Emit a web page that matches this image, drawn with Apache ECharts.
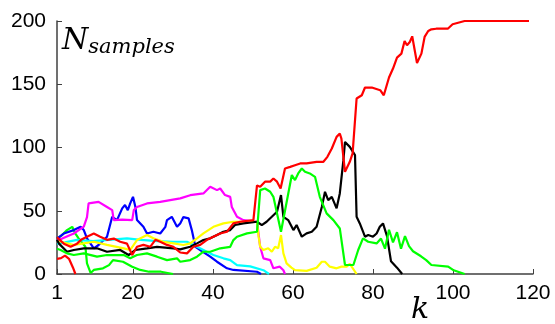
<!DOCTYPE html>
<html>
<head>
<meta charset="utf-8">
<script src="https://cdn.jsdelivr.net/npm/echarts@6/dist/echarts.min.js"></script>
<style>
  html, body { margin: 0; padding: 0; background: #fff; }
  #chart { width: 555px; height: 324px; }
</style>
</head>
<body>
<div id="chart"></div>
<script>
// Tick positions along each axis
const xTicks = [1, 20, 40, 60, 80, 100, 120];
const yTicks = [0, 50, 100, 150, 200];

// Sample counts per step k, one [k, N] list per track
const redShort = [[1,12],[2,12.5],[3,14.5],[4,12],[5,5],[5.6,0]];
const greenShort = [[1,28],[2,30],[3.5,34.7],[4.8,37.3],[5.6,32],[6.4,28.2],[8.1,21.5],[8.5,8.4],[9.4,0.8],[10.2,3.2],[12.5,4.5],[14,7],[15,11],[17.5,9.7],[19.8,5.8],[21.8,3.2],[24,1.8],[27,1.8],[30,0]];
const blueTrack = [[1,28],[2.7,32],[5.2,34.7],[6.9,37.3],[7.7,34.7],[8.5,28.2],[10.2,20.3],[11.4,22.9],[13.5,29.5],[14.8,45.2],[16,42.6],[17.3,51.9],[18,54.5],[18.7,50.5],[19.3,55.8],[20,61],[20.6,53],[21,42.6],[22.6,37.3],[23.5,32],[25.1,33.4],[26.8,32],[28.1,37.3],[28.5,42.6],[29.7,45.2],[31,37.3],[31.8,40],[32.6,45],[33.9,44],[34.7,34.7],[35.6,21.5],[36.8,19],[39.3,13.7],[41,9.7],[43.5,4.5],[45.1,3.2],[51,1.8],[52,0]];
const cyanTrack = [[1,24],[3,25],[6,27],[10,26],[14,27],[18.5,28.2],[22,27],[26,26],[30,25.5],[33.5,25.5],[36,21.5],[37.6,19],[40.1,15],[42.6,12.4],[44.3,11],[46,7],[49.3,6],[52.6,3],[54,0]];
const magentaTrack = [[1,27],[2.3,28],[5.2,32],[7.7,37.4],[8.5,45],[8.9,55.8],[11.4,57],[13.5,53],[14.8,50.5],[15.2,42.6],[17.3,43],[19.8,42.6],[20.2,50.5],[21,53],[23.5,55.8],[26.8,57],[29.3,58.4],[31.8,59.8],[34.3,62.3],[37.6,63.7],[39.3,69],[41,66.3],[41.8,67.6],[43,62.4],[44.3,61],[44.7,53],[46,45.2],[47.6,42.6],[51,41.3],[51.8,21.5],[52.6,12.4],[54.3,11],[55.1,4.5],[56.7,5.8],[57.6,3],[58,0]];
const yellowTrack = [[1,26],[1.9,25.5],[5.2,22.9],[7.7,24.2],[10.2,25.5],[13.5,23],[17.7,20.3],[19.3,19],[21,26.8],[23.5,30.8],[25.1,28.2],[27.6,25.5],[30.1,24.2],[32.6,22.9],[34.3,24.2],[36,28.2],[37.6,32.1],[40.1,37.3],[42.6,40],[45.1,41.3],[51,41.3],[51.4,29.5],[51.8,21.5],[52.6,19],[53.8,20.3],[54.7,17.6],[55.5,21.5],[56.3,20.3],[57,30.8],[57.6,16.3],[58.4,8.4],[59.6,5],[60.5,3],[63.4,2.5],[65.9,5],[67.2,9.7],[68,9.7],[69.2,5.8],[70.9,4.5],[72.1,5.8],[73.4,5.8],[74.2,8],[75.9,0]];
const blackTrack = [[1,27],[1.5,24],[3.5,17.6],[5.2,19],[7.7,20.3],[11,20.3],[13.5,17.6],[16.8,19],[18.9,15],[20.6,19],[23.5,20.3],[26,21.5],[30.1,20.3],[31.8,19.5],[34.3,21.5],[36,24.2],[37.6,26.8],[39.3,28.2],[41,30.8],[42.6,33.4],[44.3,34.7],[45.5,38.7],[47.6,40],[51,41.3],[52.2,38.7],[53.4,41.3],[54.7,45.2],[56,49.2],[57,62.4],[57.6,45.2],[58.8,42.6],[60.1,34.7],[60.9,38.7],[62.2,29.5],[63.4,32.1],[64.7,33.4],[65.9,37.3],[67.2,53],[68,65],[68.8,58.4],[69.7,61],[70.9,51.9],[71.7,63.7],[72.6,90],[73,104.4],[74.2,100.5],[75.5,94],[75.9,45.2],[76.7,40],[78,29.5],[78.8,30.8],[80,29.5],[80.9,32],[81.7,37.3],[82.5,40],[83.5,30],[84.5,10],[86,5],[87.3,0]];
const greenLong = [[1,20],[1.9,19],[3.5,16.3],[5.2,15],[7.7,16.3],[11,13.7],[13.5,15],[17.7,15],[19.3,12.4],[21,15],[23.5,16.3],[26,13.7],[28.5,11],[31,12.4],[31.8,9.7],[34.3,11],[36,13.7],[37.6,17.6],[39.3,17.6],[41.8,20.3],[44.3,21.5],[45.1,26.8],[46,29.5],[48.5,32.1],[51,33.4],[51.8,66.3],[53,67.6],[54.3,65],[55.1,61],[57,33.4],[59.7,78.2],[60.5,74.2],[61.3,79.5],[62.2,83.4],[63,80.8],[64.2,79.5],[65.5,76.8],[66.7,61],[68.4,47.9],[70.1,42.6],[71.7,36],[73,7.1],[75.1,7.1],[76.3,19],[77.5,28.2],[78.8,25.5],[80.9,24.2],[82,28],[83,20],[84,35],[85,25],[86,33],[87,20],[88,30],[89,22],[90,18],[92,14],[93.3,11],[94.6,7.1],[98.8,5.8],[100,3.2],[102.9,0]];
const redLong = [[1,29],[1.5,28],[2.7,24],[4.4,21.5],[6,24],[7,27],[8.5,29.5],[10.2,32],[11.8,29.5],[13.5,27],[15.2,28],[16.8,25.5],[18.5,24],[19.8,15],[21,21.5],[22.6,23],[24.3,21.5],[25.6,27],[26.8,25.5],[28.5,23],[30.1,21.5],[31.8,17],[33.5,16.3],[35.1,21.5],[36.8,23],[38.5,27],[40.1,29.5],[41.8,32],[43.5,33.4],[45.1,40],[46.8,41.3],[50.1,42.6],[51,70],[51.8,69],[53,73],[54.3,73],[55.1,75.5],[56,73],[56.9,67.6],[58,83.4],[59.3,84.7],[60.5,86],[61.8,87.4],[63.4,87.4],[65.9,88.7],[67.6,88.7],[68.6,92.6],[69.7,99.2],[70.9,108.4],[71.7,111],[72.1,107],[73,80.8],[74.2,88.7],[74.9,95.3],[75.9,138.7],[77.2,141.3],[78,147.4],[79.7,147.4],[81.8,145.3],[82.7,141.3],[84,155.3],[85,162.4],[86,171.1],[87.1,174.2],[87.9,184.2],[88.5,180.8],[89.2,183.4],[89.8,187.9],[91,166.8],[92.1,174.2],[92.9,187.4],[93.8,192.1],[94.6,193.4],[95.8,193.9],[98.7,193.9],[99.9,197.4],[102.9,200],[119,200]];

const tracks = [
  { data: redShort, color: '#ff0000' },
  { data: greenShort, color: '#00ff00' },
  { data: blueTrack, color: '#0000ff' },
  { data: cyanTrack, color: '#00ffff' },
  { data: magentaTrack, color: '#ff00ff' },
  { data: yellowTrack, color: '#ffff00' },
  { data: blackTrack, color: '#000000' },
  { data: greenLong, color: '#00ff00' },
  { data: redLong, color: '#ff0000' }
];

const chart = echarts.init(document.getElementById('chart'), null, { renderer: 'canvas' });

const axisFont = { fontFamily: 'Liberation Sans, Arial, sans-serif', fontSize: 21, color: '#000' };

chart.setOption({
  animation: false,
  backgroundColor: '#fff',
  grid: { left: 57, right: 22, top: 21, bottom: 50, containLabel: false },
  xAxis: {
    type: 'value', min: 1, max: 120,
    axisLine: { show: true, onZero: false, lineStyle: { color: '#404040', width: 1.5 } },
    axisTick: { show: true, inside: true, length: 5, customValues: xTicks, lineStyle: { color: '#404040' } },
    axisLabel: { ...axisFont, margin: 9, customValues: xTicks },
    splitLine: { show: false }
  },
  yAxis: {
    type: 'value', min: 0, max: 200, interval: 50,
    axisLine: { show: true, lineStyle: { color: '#404040', width: 1.5 } },
    axisTick: { show: true, inside: true, length: 5, lineStyle: { color: '#404040' } },
    axisLabel: { ...axisFont, margin: 11, formatter: v => yTicks.includes(v) ? String(v) : '' },
    splitLine: { show: false }
  },
  graphic: [
    {
      type: 'text', left: 62, top: 26,
      style: {
        text: '{n|N}{s|samples}',
        rich: {
          n: { fontFamily: 'DejaVu Serif', fontStyle: 'italic', fontSize: 30, fill: '#000' },
          s: { fontFamily: 'DejaVu Serif', fontStyle: 'italic', fontSize: 21, fill: '#000', padding: [14, 0, 0, 0] }
        }
      }
    },
    {
      type: 'text', left: 411, top: 295,
      style: { text: 'k', fontFamily: 'DejaVu Serif', fontStyle: 'italic', fontSize: 30, fill: '#000' }
    }
  ],
  series: tracks.map(t => ({
    type: 'line',
    data: t.data,
    showSymbol: false,
    symbol: 'none',
    lineStyle: { color: t.color, width: 2.2 },
    itemStyle: { color: t.color },
    clip: false
  }))
});
</script>
</body>
</html>
